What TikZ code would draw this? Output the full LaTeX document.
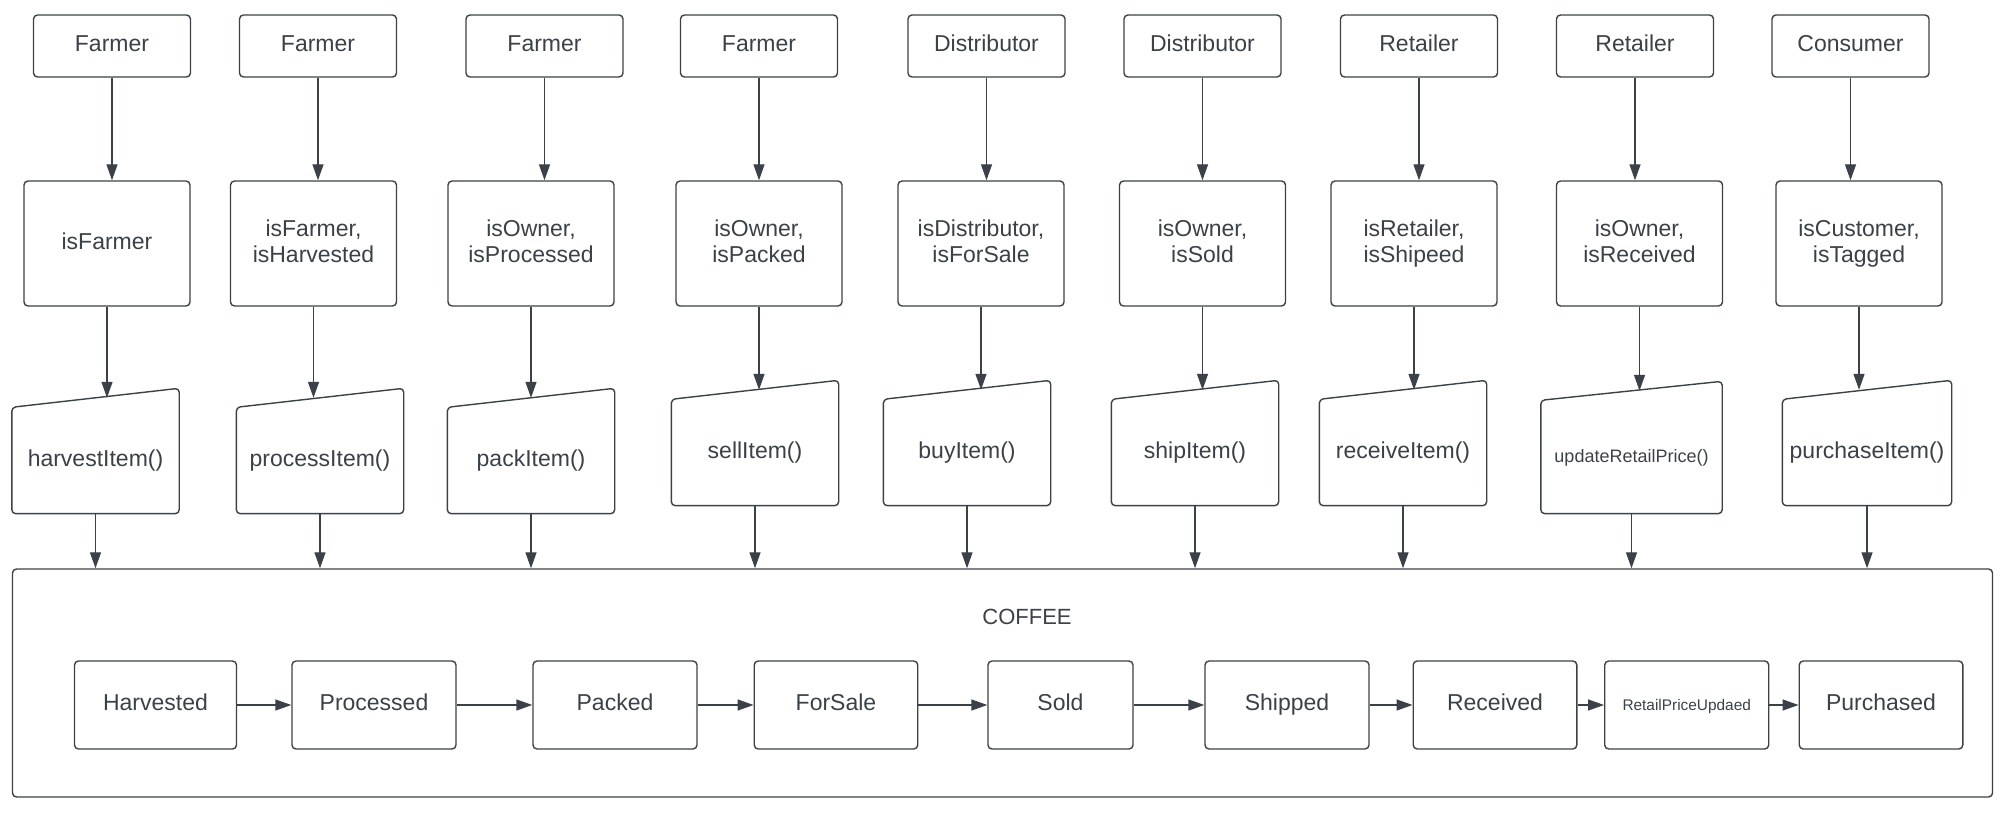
\documentclass[tikz,border=0pt]{standalone}
\usepackage{fontspec}
\setmainfont{Liberation Sans}
\usetikzlibrary{calc, positioning}
\usetikzlibrary{arrows.meta}
\definecolor{lineclr}{RGB}{60,64,72}
\tikzset{
    base/.style = {
        draw=lineclr, line width=0.7pt, rounded corners=2pt, align=center, text=lineclr,
        font=\fontsize{11.5}{13.3}\selectfont, text depth=2.5pt
    },
    actor/.style = {base, minimum width=78.5pt, minimum height=31pt, text height=8.2pt},
    check/.style = {base, minimum width=83pt, minimum height=62.5pt},
    func/.style = {base, draw=none, minimum height=52.5pt, text height=8.2pt},
    state/.style = {base, minimum height=44pt, text height=8.2pt},
    link/.style = {draw=lineclr, line width=0.7pt, -{Triangle[length=8pt, width=5.5pt]}},
}

\begin{document}
\begin{tikzpicture}[x=0.5pt, y=-0.5pt]
        \useasboundingbox (0,0) rectangle (2012,822);
        % Roles on top
        \foreach \i/\x/\t in {1/112/Farmer, 2/318/Farmer, 3/544.5/Farmer, 4/759/Farmer,
                5/986.5/Distributor, 6/1202.5/Distributor, 7/1419/Retailer, 8/1635/Retailer, 9/1850.5/Consumer}{
            \node[actor] (actor\i) at (\x,46) {\t};
        }
        % Checks
        \foreach \i/\x/\t in {1/107/{isFarmer}, 2/313.5/{isFarmer,\\isHarvested}, 3/531/{isOwner,\\isProcessed},
                4/759/{isOwner,\\isPacked}, 5/981/{isDistributor,\\isForSale}, 6/1202.5/{isOwner,\\isSold},
                7/1414/{isRetailer,\\isShipeed}, 8/1639.5/{isOwner,\\isReceived}, 9/1859/{isCustomer,\\isTagged}}{
            \node[check] (check\i) at (\x,243.5) {\t};
        }
        % Functions (manual input shapes)
        \foreach \i/\x/\y/\w/\h/\f/\t in {1/95.5/460.5/166/105/11.5/harvestItem(), 2/320/460.5/166/105/11.5/processItem(),
                3/531/460.5/166/105/11.5/packItem(), 4/755/452.5/166/105/11.5/sellItem(), 5/967/452.5/166/105/11.5/buyItem(),
                6/1195/452.5/166/105/11.5/shipItem(), 7/1403/452.5/166/105/11.5/receiveItem(),
                8/1631.5/457/180/112/9/updateRetailPrice(), 9/1867/452.5/166/105/11.5/purchaseItem()}{
            \node[func, minimum width=\w*0.5pt, minimum height=\h*0.5pt, font=\fontsize{\f}{\f}\selectfont] (func\i) at (\x,\y) {\t};
            \draw[lineclr, line width=0.7pt, rounded corners=2pt] (func\i.south west) -- (func\i.north west)
                -- ([yshift=9.5pt] func\i.north east) -- (func\i.south east) -- cycle;
        }
        % Coffee states
        \node[base, minimum width=990pt, minimum height=114pt] (coffee) at (1002.5,683) {};
        \node[text=lineclr, font=\fontsize{11}{13}\selectfont] (title) at (1027,617) {COFFEE};
        \foreach \i/\x/\w/\f/\t in {1/155.5/162/11.5/Harvested, 2/374/164/11.5/Processed, 3/615/164/11.5/Packed,
                4/836/163.5/11.5/ForSale, 5/1060.5/145/11.5/Sold, 6/1287/164/11.5/Shipped, 7/1495/163.6/11.5/Received,
                8/1686.7/164/7.7/RetailPriceUpdaed, 9/1881/163.6/11.5/Purchased}{
            \node[state, minimum width=\w*0.5pt, font=\fontsize{\f}{\f}\selectfont] (state\i) at (\x,705) {\t};
        }
        % Draw connections
        \foreach \i in {1,...,9}{
            \draw[link] (actor\i.south) -- (actor\i.south |- check\i.north);
            \draw[link] (check\i.south) -- ($(check\i.south |- func\i.north)+(0,-9.5)$);
            \draw[link] (func\i.south) -- (func\i.south |- coffee.north);
        }
        \foreach \i [count=\j from 2] in {1,...,8}{
            \draw[link] (state\i) -- (state\j);
        }
\end{tikzpicture}
\end{document}
